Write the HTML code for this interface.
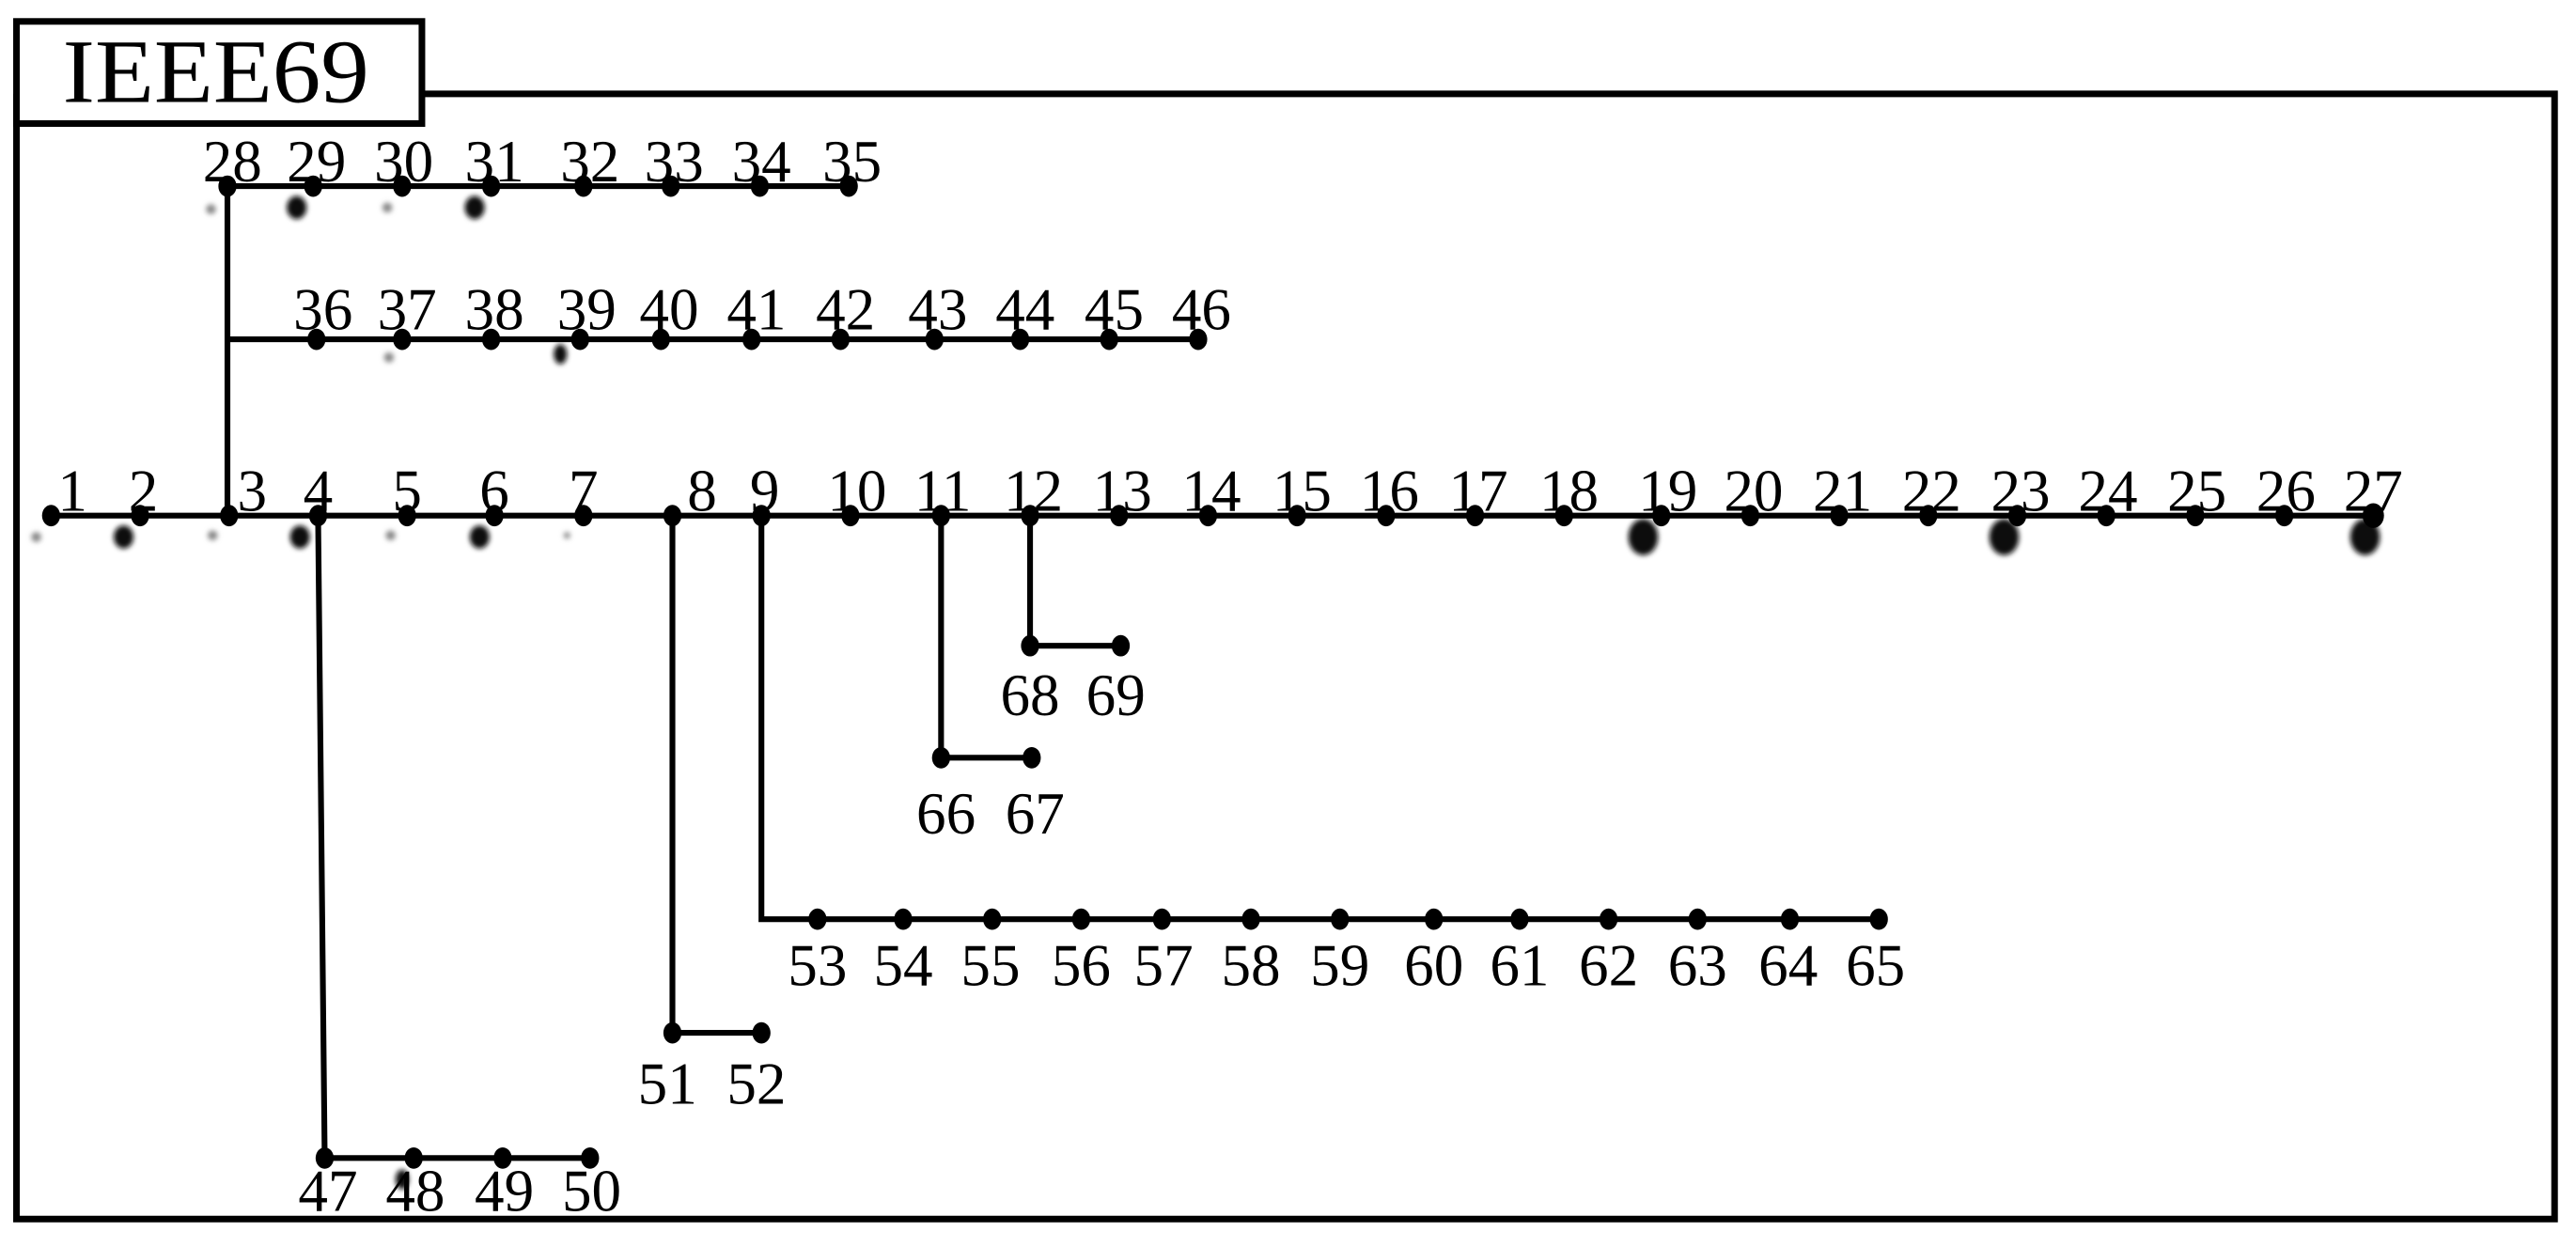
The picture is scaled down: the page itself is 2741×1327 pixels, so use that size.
<!DOCTYPE html>
<html><head><meta charset="utf-8"><style>
html,body{margin:0;padding:0;background:#fff;}
svg{display:block;}
</style></head><body>
<svg width="2741" height="1327" viewBox="0 0 1563 757" preserveAspectRatio="none" xmlns="http://www.w3.org/2000/svg">
<defs><filter id="b" x="-1" y="-1" width="3" height="3"><feGaussianBlur stdDeviation="1.5"/></filter></defs>
<rect x="0" y="0" width="1563" height="757" fill="#fff"/>
<!-- outer frame -->
<polyline points="256,57 1550,57 1550,740 10,740 10,57" fill="none" stroke="#000" stroke-width="4"/>
<rect x="10" y="13" width="246" height="62" fill="#fff" stroke="#000" stroke-width="4"/>
<text x="38" y="62" font-family="Liberation Serif, serif" font-size="55" textLength="186" lengthAdjust="spacingAndGlyphs">IEEE69</text>
<!-- smudges -->
<g filter="url(#b)">
<g fill="#888">
<circle cx="22" cy="326" r="3"/><circle cx="129" cy="325" r="3"/><circle cx="237" cy="325" r="3"/><circle cx="344" cy="325" r="2"/>
<circle cx="128" cy="127" r="3"/><circle cx="235" cy="126" r="3"/><circle cx="236" cy="217" r="3"/>
</g>
<g fill="#111">
<ellipse cx="75" cy="326" rx="6" ry="7"/><ellipse cx="182" cy="326" rx="6" ry="7"/><ellipse cx="291" cy="326" rx="6" ry="7"/>
<ellipse cx="180" cy="126" rx="6" ry="7"/><ellipse cx="288" cy="126" rx="6" ry="7"/><ellipse cx="340" cy="215" rx="4" ry="6"/>
<ellipse cx="997" cy="326" rx="9" ry="11"/><ellipse cx="1216" cy="326" rx="9" ry="11"/><ellipse cx="1435" cy="326" rx="9" ry="11"/>
<ellipse cx="244" cy="716" rx="4" ry="6"/>
</g>
</g>
<!-- lines -->
<g stroke="#000" stroke-width="3.5" fill="none">
<line x1="31" y1="313" x2="1440" y2="313"/>
<line x1="138" y1="113" x2="138" y2="313"/>
<line x1="138" y1="113" x2="515" y2="113"/>
<line x1="138" y1="206" x2="727" y2="206"/>
<polyline points="193,313 197,703 358,703"/>
<polyline points="408,313 408,627 462,627"/>
<polyline points="462,313 462,558 1140,558"/>
<polyline points="571,313 571,460 626,460"/>
<polyline points="625,313 625,392 680,392"/>
</g>
<!-- nodes -->
<g fill="#000">
<g id="main">
<ellipse cx="31" cy="313" rx="5.5" ry="6.5"/><ellipse cx="85" cy="313" rx="5.5" ry="6.5"/><ellipse cx="139" cy="313" rx="5.5" ry="6.5"/><ellipse cx="193" cy="313" rx="5.5" ry="6.5"/><ellipse cx="247" cy="313" rx="5.5" ry="6.5"/><ellipse cx="300" cy="313" rx="5.5" ry="6.5"/><ellipse cx="354" cy="313" rx="5.5" ry="6.5"/><ellipse cx="408" cy="313" rx="5.5" ry="6.5"/><ellipse cx="462" cy="313" rx="5.5" ry="6.5"/><ellipse cx="516" cy="313" rx="5.5" ry="6.5"/><ellipse cx="571" cy="313" rx="5.5" ry="6.5"/><ellipse cx="625" cy="313" rx="5.5" ry="6.5"/><ellipse cx="679" cy="313" rx="5.5" ry="6.5"/><ellipse cx="733" cy="313" rx="5.5" ry="6.5"/><ellipse cx="787" cy="313" rx="5.5" ry="6.5"/><ellipse cx="841" cy="313" rx="5.5" ry="6.5"/><ellipse cx="895" cy="313" rx="5.5" ry="6.5"/><ellipse cx="949" cy="313" rx="5.5" ry="6.5"/><ellipse cx="1008" cy="313" rx="5.5" ry="6.5"/><ellipse cx="1062" cy="313" rx="5.5" ry="6.5"/><ellipse cx="1116" cy="313" rx="5.5" ry="6.5"/><ellipse cx="1170" cy="313" rx="5.5" ry="6.5"/><ellipse cx="1224" cy="313" rx="5.5" ry="6.5"/><ellipse cx="1278" cy="313" rx="5.5" ry="6.5"/><ellipse cx="1332" cy="313" rx="5.5" ry="6.5"/><ellipse cx="1386" cy="313" rx="5.5" ry="6.5"/><ellipse cx="1440" cy="313" rx="6.5" ry="7.5"/>
</g>
<ellipse cx="138" cy="113" rx="5.5" ry="6.5"/><ellipse cx="190" cy="113" rx="5.5" ry="6.5"/><ellipse cx="244" cy="113" rx="5.5" ry="6.5"/><ellipse cx="298" cy="113" rx="5.5" ry="6.5"/><ellipse cx="354" cy="113" rx="5.5" ry="6.5"/><ellipse cx="407" cy="113" rx="5.5" ry="6.5"/><ellipse cx="461" cy="113" rx="5.5" ry="6.5"/><ellipse cx="515" cy="113" rx="5.5" ry="6.5"/>
<ellipse cx="192" cy="206" rx="5.5" ry="6.5"/><ellipse cx="244" cy="206" rx="5.5" ry="6.5"/><ellipse cx="298" cy="206" rx="5.5" ry="6.5"/><ellipse cx="352" cy="206" rx="5.5" ry="6.5"/><ellipse cx="401" cy="206" rx="5.5" ry="6.5"/><ellipse cx="456" cy="206" rx="5.5" ry="6.5"/><ellipse cx="510" cy="206" rx="5.5" ry="6.5"/><ellipse cx="567" cy="206" rx="5.5" ry="6.5"/><ellipse cx="619" cy="206" rx="5.5" ry="6.5"/><ellipse cx="673" cy="206" rx="5.5" ry="6.5"/><ellipse cx="727" cy="206" rx="5.5" ry="6.5"/>
<ellipse cx="197" cy="703" rx="5.5" ry="6.5"/><ellipse cx="251" cy="703" rx="5.5" ry="6.5"/><ellipse cx="305" cy="703" rx="5.5" ry="6.5"/><ellipse cx="358" cy="703" rx="5.5" ry="6.5"/>
<ellipse cx="408" cy="627" rx="5.5" ry="6.5"/><ellipse cx="462" cy="627" rx="5.5" ry="6.5"/>
<ellipse cx="496" cy="558" rx="5.5" ry="6.5"/><ellipse cx="548" cy="558" rx="5.5" ry="6.5"/><ellipse cx="602" cy="558" rx="5.5" ry="6.5"/><ellipse cx="656" cy="558" rx="5.5" ry="6.5"/><ellipse cx="705" cy="558" rx="5.5" ry="6.5"/><ellipse cx="759" cy="558" rx="5.5" ry="6.5"/><ellipse cx="813" cy="558" rx="5.5" ry="6.5"/><ellipse cx="870" cy="558" rx="5.5" ry="6.5"/><ellipse cx="922" cy="558" rx="5.5" ry="6.5"/><ellipse cx="976" cy="558" rx="5.5" ry="6.5"/><ellipse cx="1030" cy="558" rx="5.5" ry="6.5"/><ellipse cx="1086" cy="558" rx="5.5" ry="6.5"/><ellipse cx="1140" cy="558" rx="5.5" ry="6.5"/>
<ellipse cx="571" cy="460" rx="5.5" ry="6.5"/><ellipse cx="626" cy="460" rx="5.5" ry="6.5"/>
<ellipse cx="625" cy="392" rx="5.5" ry="6.5"/><ellipse cx="680" cy="392" rx="5.5" ry="6.5"/>
</g>
<!-- labels -->
<g font-family="Liberation Serif, serif" font-size="36" text-anchor="middle" fill="#000">
<text x="44" y="310">1</text><text x="87" y="310">2</text><text x="153" y="310">3</text><text x="193" y="310">4</text><text x="247" y="310">5</text><text x="300" y="310">6</text><text x="354" y="310">7</text><text x="426" y="310">8</text><text x="464" y="310">9</text><text x="520" y="310">10</text><text x="572" y="310">11</text><text x="627" y="310">12</text><text x="681" y="310">13</text><text x="735" y="310">14</text><text x="790" y="310">15</text><text x="843" y="310">16</text><text x="897" y="310">17</text><text x="952" y="310">18</text><text x="1012" y="310">19</text><text x="1064" y="310">20</text><text x="1118" y="310">21</text><text x="1172" y="310">22</text><text x="1226" y="310">23</text><text x="1279" y="310">24</text><text x="1333" y="310">25</text><text x="1387" y="310">26</text><text x="1440" y="310">27</text>
<text x="141" y="110">28</text><text x="192" y="110">29</text><text x="245" y="110">30</text><text x="300" y="110">31</text><text x="358" y="110">32</text><text x="409" y="110">33</text><text x="462" y="110">34</text><text x="517" y="110">35</text>
<text x="196" y="200">36</text><text x="247" y="200">37</text><text x="300" y="200">38</text><text x="356" y="200">39</text><text x="406" y="200">40</text><text x="459" y="200">41</text><text x="513" y="200">42</text><text x="569" y="200">43</text><text x="622" y="200">44</text><text x="676" y="200">45</text><text x="729" y="200">46</text>
<text x="199" y="735">47</text><text x="252" y="735">48</text><text x="306" y="735">49</text><text x="359" y="735">50</text>
<text x="405" y="670">51</text><text x="459" y="670">52</text>
<text x="496" y="598">53</text><text x="548" y="598">54</text><text x="601" y="598">55</text><text x="656" y="598">56</text><text x="706" y="598">57</text><text x="759" y="598">58</text><text x="813" y="598">59</text><text x="870" y="598">60</text><text x="922" y="598">61</text><text x="976" y="598">62</text><text x="1030" y="598">63</text><text x="1085" y="598">64</text><text x="1138" y="598">65</text>
<text x="574" y="506">66</text><text x="628" y="506">67</text>
<text x="625" y="434">68</text><text x="677" y="434">69</text>
</g>
</svg>
</body></html>
